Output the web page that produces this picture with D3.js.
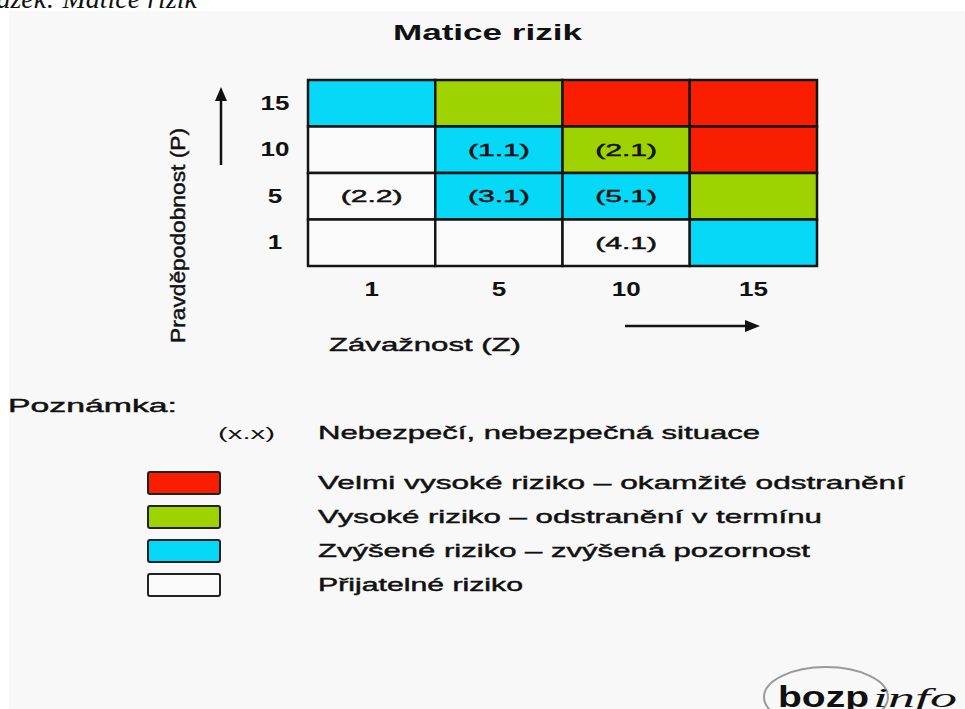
<!DOCTYPE html>
<html>
<head>
<meta charset="utf-8">
<script src="https://cdn.jsdelivr.net/npm/d3@7"></script>
<style>
  html, body { margin: 0; padding: 0; background: #ffffff; }
  svg { display: block; }
  text { font-family: "Liberation Sans", Arial, sans-serif; fill: #111; }
  .heavy { stroke: #111; stroke-width: 0.45px; }
</style>
</head>
<body>
<div id="chart"></div>
<script>
// --- Data ---
const severity = ["1", "5", "10", "15"];          // Závažnost (Z), columns
const probability = ["15", "10", "5", "1"];       // Pravděpodobnost (P), rows top -> bottom
// risk level of each cell, rows follow `probability`, columns follow `severity`
const riskRows = [
  ["Z", "V", "VV", "VV"],
  ["P", "Z", "V", "VV"],
  ["P", "Z", "Z", "V"],
  ["P", "P", "P", "Z"]
];
const hazards = [
  { p: "10", z: "5", label: "(1.1)" },
  { p: "10", z: "10", label: "(2.1)" },
  { p: "5", z: "1", label: "(2.2)" },
  { p: "5", z: "5", label: "(3.1)" },
  { p: "5", z: "10", label: "(5.1)" },
  { p: "1", z: "10", label: "(4.1)" }
];
const legendLevels = ["VV", "V", "Z", "P"];
const legendTexts = [
  "Velmi vysoké riziko – okamžité odstranění",
  "Vysoké riziko – odstranění v termínu",
  "Zvýšené riziko – zvýšená pozornost",
  "Přijatelné riziko"
];
const legendWidths = [587, 504, 492, 205];

// --- Constants ---
const W = 965, H = 709;
const COLORS = { VV: "#f91e00", V: "#9ed200", Z: "#06d8f8", P: "#fafafa" };

const svg = d3.select("#chart").append("svg")
  .attr("width", W).attr("height", H)
  .attr("viewBox", [0, 0, W, H]);

// caption above the picture (cut off at the top, as in the source page)
svg.append("text")
  .attr("x", 197).attr("y", 8)
  .attr("text-anchor", "end")
  .style("font-family", "'Liberation Serif', 'Times New Roman', serif")
  .style("font-style", "italic")
  .style("font-size", "28px")
  .text("Obrázek: Matice rizik");

// picture background
svg.append("rect")
  .attr("x", 9).attr("y", 11).attr("width", W - 9).attr("height", H - 11)
  .attr("fill", "#f8f8f8");

// title
svg.append("text")
  .attr("x", 393).attr("y", 40)
  .attr("textLength", 189).attr("lengthAdjust", "spacingAndGlyphs")
  .style("font-size", "22px").style("font-weight", "bold")
  .text("Matice rizik");

// --- Scales ---
const x = d3.scaleBand().domain(severity).range([308, 817]).padding(0);
const y = d3.scaleBand().domain(probability).range([80, 266]).padding(0);

// --- Cells ---
const cells = [];
riskRows.forEach((row, i) => row.forEach((lvl, j) => cells.push({ p: probability[i], z: severity[j], lvl })));

const grid = svg.append("g");
grid.selectAll("rect")
  .data(cells)
  .join("rect")
  .attr("x", d => x(d.z))
  .attr("y", d => y(d.p))
  .attr("width", x.bandwidth())
  .attr("height", y.bandwidth())
  .attr("fill", d => COLORS[d.lvl])
  .attr("stroke", "#151515")
  .attr("stroke-width", 2.5);

grid.selectAll("text")
  .data(hazards)
  .join("text")
  .attr("class", "heavy")
  .attr("x", d => x(d.z) + x.bandwidth() / 2 - 31)
  .attr("y", d => y(d.p) + y.bandwidth() / 2 + 6)
  .attr("textLength", 62).attr("lengthAdjust", "spacingAndGlyphs")
  .style("font-size", "17px")
  .text(d => d.label);

// --- Axes ---
const yAxis = svg.append("g")
  .attr("transform", "translate(275,0)")
  .call(d3.axisLeft(y).tickSize(0).tickPadding(0));
yAxis.select(".domain").remove();
yAxis.selectAll("text")
  .attr("x", 0).attr("text-anchor", "middle")
  .attr("transform", "scale(1.3,1)")
  .style("font-family", "'Liberation Sans', Arial, sans-serif")
  .style("font-size", "20px").style("font-weight", "bold").attr("fill", "#111");

const xAxis = svg.append("g")
  .attr("transform", "translate(0,289)")
  .call(d3.axisBottom(x).tickSize(0).tickPadding(0));
xAxis.select(".domain").remove();
xAxis.selectAll("text")
  .attr("y", 0).attr("dy", "0.35em")
  .attr("transform", "scale(1.3,1)")
  .style("font-family", "'Liberation Sans', Arial, sans-serif")
  .style("font-size", "20px").style("font-weight", "bold").attr("fill", "#111");
// keep tick labels centred on the bands after the horizontal stretch
xAxis.selectAll(".tick").each(function (d) {
  d3.select(this).attr("transform", `translate(${x(d) + x.bandwidth() / 2},0)`);
});

// axis titles
svg.append("text")
  .attr("class", "heavy")
  .attr("transform", "translate(185,343) rotate(-90)")
  .attr("textLength", 215).attr("lengthAdjust", "spacingAndGlyphs")
  .style("font-size", "21px")
  .text("Pravděpodobnost (P)");

svg.append("text")
  .attr("class", "heavy")
  .attr("x", 329).attr("y", 351)
  .attr("textLength", 192).attr("lengthAdjust", "spacingAndGlyphs")
  .style("font-size", "19px")
  .text("Závažnost (Z)");

// arrows
svg.append("line").attr("x1", 221).attr("y1", 165).attr("x2", 221).attr("y2", 97)
  .attr("stroke", "#111").attr("stroke-width", 2.5);
svg.append("path").attr("d", "M221,87 L215,101 L227,101 Z").attr("fill", "#111");
svg.append("line").attr("x1", 625).attr("y1", 326).attr("x2", 748).attr("y2", 326)
  .attr("stroke", "#111").attr("stroke-width", 2.5);
svg.append("path").attr("d", "M760,326 L745,320 L745,332 Z").attr("fill", "#111");

// --- Legend ---
svg.append("text")
  .attr("class", "heavy")
  .attr("x", 8).attr("y", 412)
  .attr("textLength", 169).attr("lengthAdjust", "spacingAndGlyphs")
  .style("font-size", "19px")
  .text("Poznámka:");
svg.append("text")
  .attr("x", 218).attr("y", 439)
  .attr("textLength", 57).attr("lengthAdjust", "spacingAndGlyphs")
  .style("font-size", "17px")
  .text("(x.x)");
svg.append("text")
  .attr("class", "heavy")
  .attr("x", 318).attr("y", 439)
  .attr("textLength", 442).attr("lengthAdjust", "spacingAndGlyphs")
  .style("font-size", "19px")
  .text("Nebezpečí, nebezpečná situace");

const legend = svg.append("g");
const ly = d3.scaleBand().domain(legendLevels).range([472, 608]).padding(0);
legend.selectAll("rect")
  .data(legendLevels)
  .join("rect")
  .attr("x", 148).attr("y", d => ly(d))
  .attr("width", 72).attr("height", 22).attr("rx", 2)
  .attr("fill", d => COLORS[d])
  .attr("stroke", "#222").attr("stroke-width", 2);
legend.selectAll("text")
  .data(legendLevels)
  .join("text")
  .attr("class", "heavy")
  .attr("x", 318).attr("y", d => ly(d) + 17)
  .attr("textLength", (d, i) => legendWidths[i]).attr("lengthAdjust", "spacingAndGlyphs")
  .style("font-size", "19px")
  .text((d, i) => legendTexts[i]);

// --- Logo ---
const logo = svg.append("g");
logo.append("ellipse").attr("cx", 826).attr("cy", 697).attr("rx", 62).attr("ry", 30)
  .attr("fill", "none").attr("stroke", "#9a9a9a").attr("stroke-width", 2);
logo.append("text").attr("x", 778).attr("y", 707)
  .attr("textLength", 91).attr("lengthAdjust", "spacingAndGlyphs")
  .style("font-size", "30px").style("font-weight", "bold").attr("fill", "#173826")
  .text("bozp");
logo.append("text").attr("x", 873).attr("y", 707)
  .attr("textLength", 84).attr("lengthAdjust", "spacingAndGlyphs")
  .style("font-family", "'Liberation Serif', 'Times New Roman', serif")
  .style("font-style", "italic").style("font-size", "28px").attr("fill", "#3a3a3a")
  .text("info");
</script>
</body>
</html>
